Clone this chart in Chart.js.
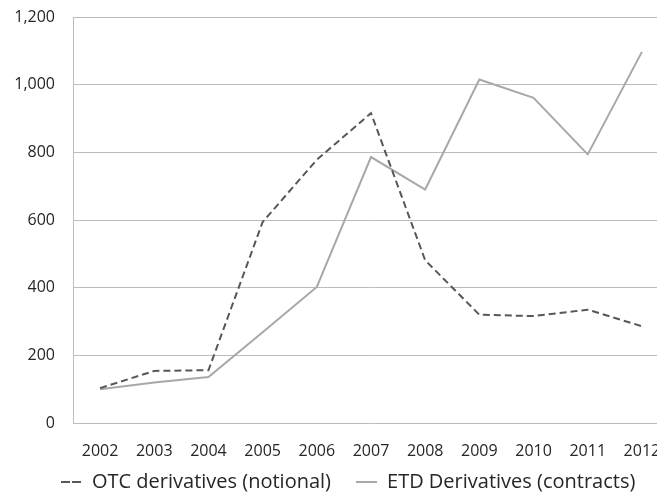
<!DOCTYPE html>
<html>
<head>
<meta charset="utf-8">
<script src="https://cdn.jsdelivr.net/npm/chart.js@4/dist/chart.umd.min.js"></script>
<style>
  html, body { margin: 0; padding: 0; background: #fff; overflow: hidden; }
  #wrap { width: 700px; height: 493px; }
</style>
</head>
<body>
<div id="wrap"><canvas id="c" width="700" height="493"></canvas></div>
<script>
const years = ['2002','2003','2004','2005','2006','2007','2008','2009','2010','2011','2012'];
const otcNotional = [103, 154, 156, 594, 778, 916, 481, 320, 316, 335, 286];
const etdContracts = [100, 120, 136, 268, 402, 786, 690, 1015, 961, 794, 1097];
const seriesNames = ['OTC derivatives (notional)', 'ETD Derivatives (contracts)'];
const yMin = 0, yMax = 1200, yStep = 200;

const FONT = { family: "'Open Sans', sans-serif", size: 16 };
const LEGEND_FONT = { family: "'Open Sans', sans-serif", size: 20 };
const TEXT = '#262626';
const GRID = '#bcbcbc';
const LEGEND_PAD = 25;

// Place the legend row where the reference has it (below the year labels, left-started)
const legendPlace = {
  id: 'legendPlace',
  beforeDraw(chart) {
    const lg = chart.legend;
    if (!lg) return;
    lg.left = 61 - LEGEND_PAD;
    lg.right = 700;
    lg.top = 447;
    lg.bottom = 493;
  }
};

new Chart(document.getElementById('c'), {
  type: 'line',
  data: {
    labels: years,
    datasets: [
      {
        label: seriesNames[0],
        data: otcNotional,
        borderColor: '#575757',
        backgroundColor: '#575757',
        borderWidth: 2,
        borderDash: [7, 4],
        pointRadius: 0,
        tension: 0,
        fill: false
      },
      {
        label: seriesNames[1],
        data: etdContracts,
        borderColor: '#a8a8a8',
        backgroundColor: '#a8a8a8',
        borderWidth: 2,
        pointRadius: 0,
        tension: 0,
        fill: false
      }
    ]
  },
  options: {
    responsive: false,
    animation: false,
    devicePixelRatio: 1,
    layout: { padding: { top: 17, right: 31, bottom: 29, left: 0 } },
    plugins: {
      tooltip: { enabled: false },
      legend: {
        position: 'bottom',
        align: 'start',
        maxHeight: 1,
        labels: {
          font: LEGEND_FONT,
          color: TEXT,
          boxWidth: 21,
          boxHeight: 0,
          padding: LEGEND_PAD
        }
      }
    },
    scales: {
      x: {
        type: 'category',
        offset: true,
        grid: { display: false, drawTicks: false },
        border: { display: false },
        ticks: { font: FONT, color: TEXT, padding: 19, maxRotation: 0, autoSkip: false },
        afterFit(s) { s.height = 40; }
      },
      y: {
        min: yMin,
        max: yMax,
        grid: { color: GRID, lineWidth: 1, drawTicks: false },
        border: { display: true, color: GRID, width: 1 },
        ticks: { stepSize: yStep, font: FONT, color: TEXT, padding: 18 },
        afterFit(s) { s.width = 73; s.paddingTop = 0; s.paddingBottom = 0; }
      }
    }
  },
  plugins: [legendPlace]
});
</script>
</body>
</html>
